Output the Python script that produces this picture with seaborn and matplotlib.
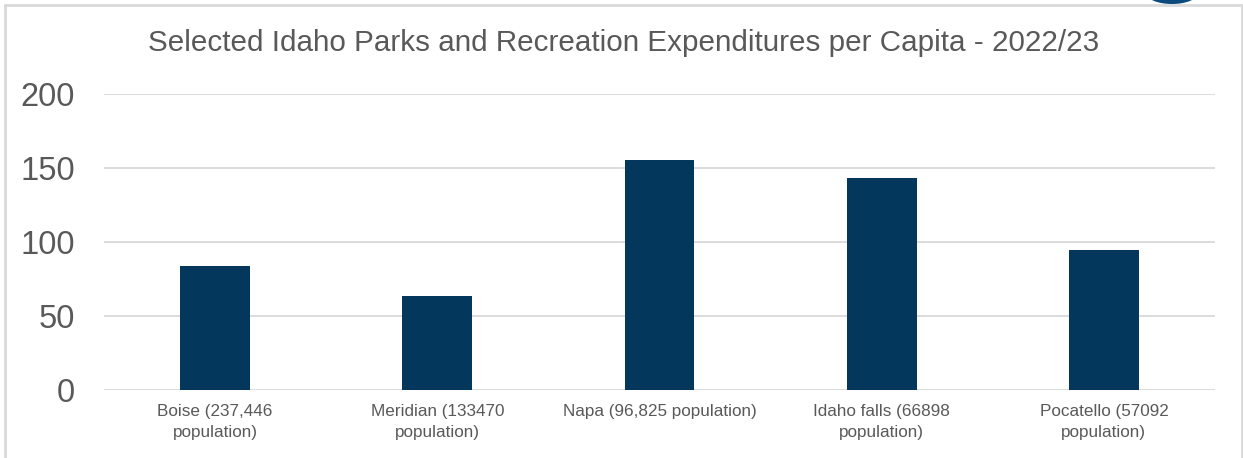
import numpy as np
import pandas as pd
import matplotlib.pyplot as plt
from matplotlib.patches import Rectangle, Ellipse
import seaborn as sns

# Data
cities = ["Boise (237,446\npopulation)", "Meridian (133470\npopulation)",
          "Napa (96,825 population)", "Idaho falls (66898\npopulation)",
          "Pocatello (57092\npopulation)"]
spend = [84, 63.5, 155.5, 143.5, 94.5]
yticks = [0, 50, 100, 150, 200]

df = pd.DataFrame({"city": cities, "spend": spend})

sns.set_style("white")
plt.rcParams['font.family'] = ['Liberation Sans', 'DejaVu Sans']
txt = '#595959'
grid = '#D9D9D9'

fig = plt.figure(figsize=(12.43, 4.58), dpi=100)
ax = fig.add_axes([104/1243, 1 - 390/458, (1215 - 104)/1243, (390 - 94)/458])

sns.barplot(data=df, x="city", y="spend", color='#03385C', width=0.315,
            saturation=1, ax=ax, zorder=3, linewidth=0)

# Decorations
ax.set_ylim(0, 200)
ax.set_yticks(yticks)
ax.set_xlim(-0.5, len(cities) - 0.5)
ax.set_xlabel("")
ax.set_ylabel("")
for y in yticks:
    ax.axhline(y, color=grid, lw=1.3, zorder=1)
for s in ax.spines.values():
    s.set_visible(False)
ax.tick_params(axis='y', length=0, pad=21, labelsize=23.5, labelcolor=txt)
ax.tick_params(axis='x', length=0, pad=10, labelsize=12.3, labelcolor=txt)
for lab in ax.get_xticklabels():
    lab.set_linespacing(1.55)

fig.text(624/1243, 1 - 43/458, "Selected Idaho Parks and Recreation Expenditures per Capita - 2022/23",
         ha='center', va='center', fontsize=21.3, color=txt)

# frame around the chart
fig.patches.append(Rectangle((5/1243, -0.1), (1242 - 5)/1243, 1.1 - 5/458,
                             transform=fig.transFigure, fill=False,
                             edgecolor=grid, lw=2))
fig.patches.append(Ellipse((1172/1243, 1 + 6/458), 50/1243, 20/458,
                           transform=fig.transFigure, facecolor='#0B4A7D',
                           edgecolor='none'))

fig.savefig("out.png", dpi=100)
